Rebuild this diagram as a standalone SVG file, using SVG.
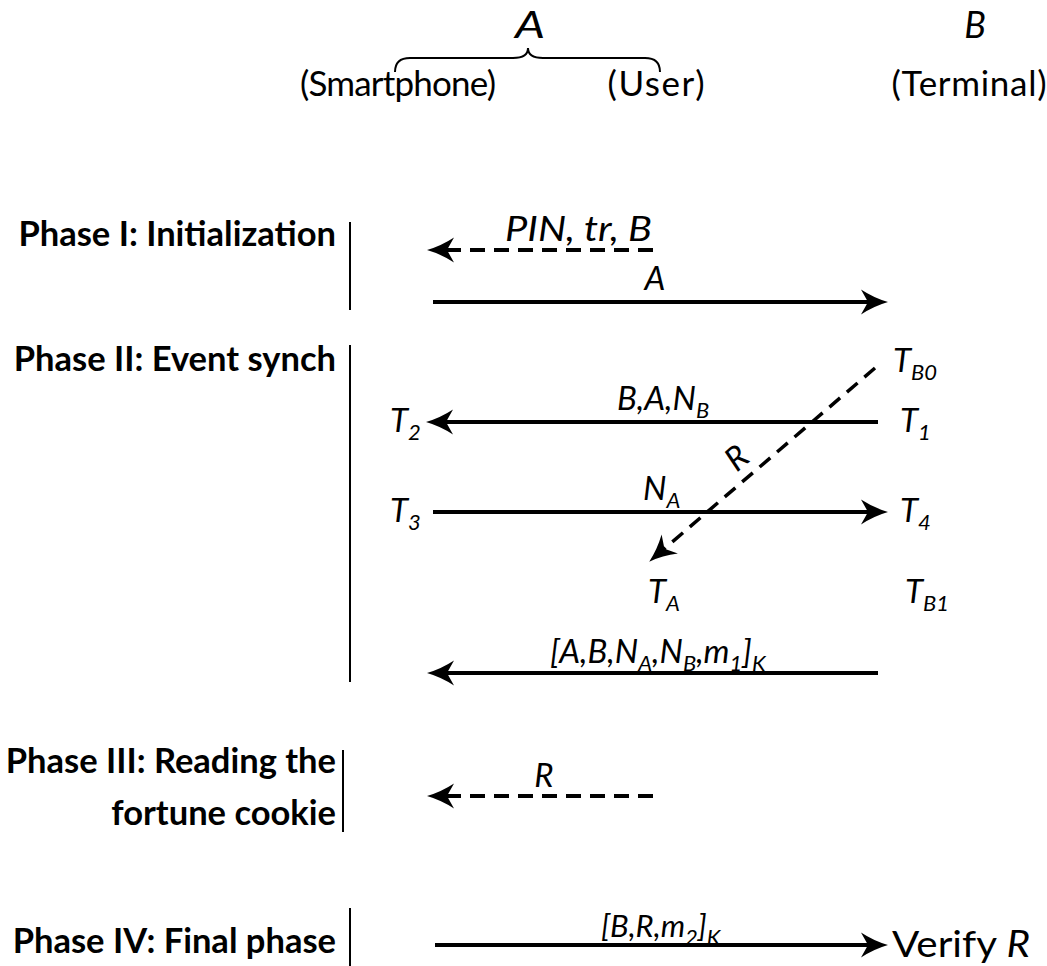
<svg xmlns="http://www.w3.org/2000/svg" width="1047" height="966" viewBox="0 0 1047 966">
<style>
text{font-family:Lato,"Open Sans","Liberation Sans",sans-serif;fill:#000}
.ph{font-weight:bold;font-size:34.5px;text-anchor:end}
.hd{font-size:35px;text-anchor:middle}
.m{font-style:italic;font-size:33px}
.s{font-size:22px}
.bar{stroke:#000;stroke-width:2;fill:none}
.ln{stroke:#000;stroke-width:4;fill:none}
.dl{stroke:#000;stroke-width:4;fill:none;stroke-dasharray:15 9}
.dg{stroke:#000;stroke-width:3.5;fill:none;stroke-dasharray:14 9}
</style>
<defs>
<marker id="ah" markerUnits="userSpaceOnUse" viewBox="-2 -14 32 28" markerWidth="32" markerHeight="28" refX="16" refY="0" orient="auto" overflow="visible">
<path d="M0,-12.5 Q13,-4 27,0 Q13,4 0,12.5 L7,0 Z" fill="#000"/>
</marker>
</defs>

<g id="header">
<text class="m" x="530" y="38" text-anchor="middle" style="font-size:37px" textLength="30" lengthAdjust="spacingAndGlyphs">A</text>
<text class="m" x="975" y="38" text-anchor="middle" style="font-size:36px">B</text>
<path class="bar" d="M395,72 Q395,58 410,58 L513,58 Q528,58 528,48 Q528,58 543,58 L645,58 Q660,58 660,72"/>
<text class="hd" x="398" y="96" textLength="196">(Smartphone)</text>
<text class="hd" x="656" y="96" textLength="97">(User)</text>
<text class="hd" x="969" y="96" textLength="155">(Terminal)</text>
</g>

<g id="phase1">
<text class="ph" x="336" y="246">Phase I: Initialization</text>
<line class="bar" x1="350" y1="222" x2="350" y2="310"/>
<text class="m" x="505" y="241" style="font-size:35px" textLength="147" lengthAdjust="spacingAndGlyphs">PIN, tr, B</text>
<text class="m" x="655" y="290" text-anchor="middle">A</text>
</g>

<g id="phase2">
<text class="ph" x="336" y="371">Phase II: Event synch</text>
<line class="bar" x1="350" y1="345" x2="350" y2="682"/>
<text class="m" x="893" y="372">T<tspan class="s" dy="8">B0</tspan></text>
<text class="m" x="617" y="410">B,A,N<tspan class="s" dy="8">B</tspan></text>
<text class="m" x="390" y="432">T<tspan class="s" dy="8">2</tspan></text>
<text class="m" x="900" y="432">T<tspan class="s" dy="8">1</tspan></text>
<text class="m" x="737" y="469" text-anchor="middle" transform="rotate(-40.6 737 458)">R</text>
<text class="m" x="643" y="500">N<tspan class="s" dy="8">A</tspan></text>
<text class="m" x="390" y="522">T<tspan class="s" dy="8">3</tspan></text>
<text class="m" x="900" y="522">T<tspan class="s" dy="8">4</tspan></text>
<text class="m" x="648" y="603">T<tspan class="s" dy="8">A</tspan></text>
<text class="m" x="905" y="603">T<tspan class="s" dy="8">B1</tspan></text>
<text class="m" x="550" y="663">[A,B,N<tspan class="s" dy="8">A</tspan><tspan dy="-8">,N</tspan><tspan class="s" dy="8">B</tspan><tspan dy="-8">,m</tspan><tspan class="s" dy="8">1</tspan><tspan dy="-8">]</tspan><tspan class="s" dy="8">K</tspan></text>
</g>

<g id="phase3">
<text class="ph" x="336" y="773">Phase III: Reading the</text>
<text class="ph" x="336" y="825">fortune cookie</text>
<line class="bar" x1="343" y1="750" x2="343" y2="832"/>
<text class="m" x="544" y="787" text-anchor="middle">R</text>
</g>

<g id="phase4">
<text class="ph" x="336" y="953">Phase IV: Final phase</text>
<line class="bar" x1="350" y1="908" x2="350" y2="966"/>
<text class="m" x="601" y="937" style="font-size:31px">[B,R,m<tspan class="s" dy="8">2</tspan><tspan dy="-8">]</tspan><tspan class="s" dy="8">K</tspan></text>
<text x="892" y="957" style="font-size:36px" textLength="138" lengthAdjust="spacingAndGlyphs">Verify <tspan font-style="italic">R</tspan></text>
</g>

<g id="connectors">
<line class="dl" x1="653" y1="250" x2="438" y2="250" marker-end="url(#ah)"/>
<line class="ln" x1="433" y1="302" x2="877" y2="302" marker-end="url(#ah)"/>
<line class="ln" x1="878" y1="422" x2="437" y2="422" marker-end="url(#ah)"/>
<line class="ln" x1="433" y1="512" x2="877" y2="512" marker-end="url(#ah)"/>
<line class="dg" x1="875" y1="368" x2="657.6" y2="554.5" marker-end="url(#ah)"/>
<line class="ln" x1="878" y1="673" x2="438" y2="673" marker-end="url(#ah)"/>
<line class="dl" x1="653" y1="796" x2="438" y2="796" marker-end="url(#ah)"/>
<line class="ln" x1="435" y1="945" x2="877" y2="945" marker-end="url(#ah)"/>
</g>
</svg>
